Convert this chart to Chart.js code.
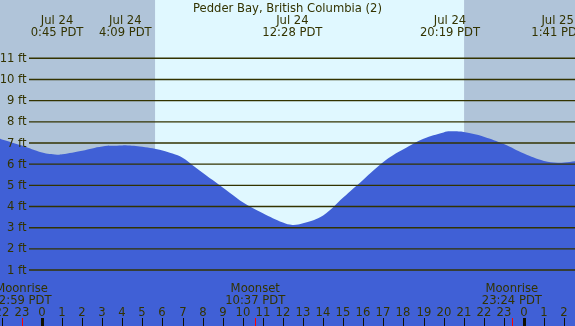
<!DOCTYPE html>
<html>
<head>
<meta charset="utf-8">
<script src="https://cdn.jsdelivr.net/npm/chart.js@4.4.1/dist/chart.umd.min.js"></script>
<style>
  html, body { margin: 0; padding: 0; background: #ffffff; }
  #wrap { width: 575px; height: 326px; }
</style>
</head>
<body>
<div id="wrap"><canvas id="tide-chart" width="575" height="326"></canvas></div>
<script>
// tide heights (ft), hour 0 = midnight Jul 24
const tideHours   = [-3, -2, -1, 0, 0.75, 1, 2, 3, 4, 4.15, 5, 6, 6.5, 7, 7.5, 8, 8.5, 9, 9.5, 10, 11, 12, 12.47, 13, 14, 15, 15.5, 16, 16.5, 17, 17.5, 18, 19, 20, 20.32, 21, 22, 23, 24, 25, 25.68, 26, 27];
const tideHeights = [7.45, 7.17, 6.88, 6.55, 6.45, 6.47, 6.64, 6.84, 6.88, 6.89, 6.82, 6.65, 6.5, 6.3, 5.95, 5.6, 5.25, 4.9, 4.54, 4.2, 3.68, 3.24, 3.13, 3.21, 3.58, 4.42, 4.85, 5.27, 5.7, 6.1, 6.43, 6.7, 7.2, 7.5, 7.55, 7.52, 7.3, 6.95, 6.5, 6.15, 6.07, 6.08, 6.2];

// highs and lows printed along the top
const extremeHours = [0.75, 4.15, 12.47, 20.32, 25.68];
const extremeDates = ['Jul 24', 'Jul 24', 'Jul 24', 'Jul 24', 'Jul 25'];
const extremeTimes = ['0:45 PDT', '4:09 PDT', '12:28 PDT', '20:19 PDT', '1:41 PDT'];

// moon events along the bottom
const moonHours = [-1.02, 10.62, 23.4];
const moonNames = ['Moonrise', 'Moonset', 'Moonrise'];
const moonTimes = ['22:59 PDT', '10:37 PDT', '23:24 PDT'];

const sunriseHour = 5.63;
const sunsetHour = 21.02;

const hourTicks  = [-2, -1, 0, 1, 2, 3, 4, 5, 6, 7, 8, 9, 10, 11, 12, 13, 14, 15, 16, 17, 18, 19, 20, 21, 22, 23, 24, 25, 26];
const hourLabels = ['22', '23', '0', '1', '2', '3', '4', '5', '6', '7', '8', '9', '10', '11', '12', '13', '14', '15', '16', '17', '18', '19', '20', '21', '22', '23', '0', '1', '2'];
const depthTicks = [1, 2, 3, 4, 5, 6, 7, 8, 9, 10, 11];

const title = 'Pedder Bay, British Columbia (2)';

const FONT = '11.6px "DejaVu Sans"';
const INK = '#333300';
const NIGHT = '#b0c4d9';
const DAY = '#e0f8ff';
const WATER = '#4060d6';

// sky: night everywhere, day between sunrise and sunset
const skyPlugin = {
    id: 'sky',
    beforeDatasetsDraw(chart) {
        const { ctx, chartArea: a, scales: { x } } = chart;
        ctx.save();
        ctx.fillStyle = NIGHT;
        ctx.fillRect(a.left, a.top, a.right - a.left, a.bottom - a.top);
        const x1 = x.getPixelForValue(sunriseHour);
        const x2 = x.getPixelForValue(sunsetHour);
        ctx.fillStyle = DAY;
        ctx.fillRect(x1, a.top, x2 - x1, a.bottom - a.top);
        ctx.restore();
    }
};

// grid lines, labels and ticks drawn on top of the water
const overlayPlugin = {
    id: 'overlay',
    afterDatasetsDraw(chart) {
        const { ctx, chartArea: a, scales: { x, y } } = chart;
        ctx.save();
        ctx.font = FONT;
        ctx.fillStyle = INK;

        // depth lines + "N ft" labels
        ctx.strokeStyle = INK;
        ctx.lineWidth = 1.4;
        depthTicks.forEach(d => {
            const py = y.getPixelForValue(d);
            ctx.beginPath();
            ctx.moveTo(29, py);
            ctx.lineTo(a.right, py);
            ctx.stroke();
            ctx.textAlign = 'right';
            ctx.textBaseline = 'middle';
            ctx.fillText(d + ' ft', 26.5, py + 0.5);
        });

        // title
        ctx.textAlign = 'center';
        ctx.textBaseline = 'alphabetic';
        ctx.fillText(title, (a.left + a.right) / 2, 12);

        // high / low labels
        extremeHours.forEach((h, i) => {
            const px = x.getPixelForValue(h);
            ctx.fillText(extremeDates[i], px, 24);
            ctx.fillText(extremeTimes[i], px, 36);
        });

        // moon labels
        moonHours.forEach((h, i) => {
            const px = x.getPixelForValue(h);
            ctx.fillText(moonNames[i], px, 291.5);
            ctx.fillText(moonTimes[i], px, 303.5);
        });

        // hour labels and ticks
        hourTicks.forEach((h, i) => {
            const px = Math.round(x.getPixelForValue(h));
            ctx.fillStyle = INK;
            ctx.fillText(hourLabels[i], px, 315.5);
            ctx.fillStyle = '#111100';
            const w = hourLabels[i] === '0' ? 3 : 1;
            ctx.fillRect(px - Math.floor(w / 2), 318, w, a.bottom - 318);
        });

        // moon event ticks
        ctx.fillStyle = '#ff0000';
        moonHours.forEach(h => {
            const px = Math.round(x.getPixelForValue(h));
            ctx.fillRect(px, 318, 1, a.bottom - 318);
        });

        ctx.restore();
    }
};

const canvas = document.getElementById('tide-chart');
new Chart(canvas.getContext('2d'), {
    type: 'line',
    data: {
        datasets: [{
            label: 'Tide',
            data: tideHours.map((h, i) => ({ x: h, y: tideHeights[i] })),
            borderWidth: 0,
            borderColor: WATER,
            backgroundColor: WATER,
            pointRadius: 0,
            fill: 'start',
            tension: 0.4
        }]
    },
    options: {
        responsive: false,
        animation: false,
        events: [],
        layout: { padding: 0, autoPadding: false },
        plugins: {
            legend: { display: false },
            tooltip: { enabled: false }
        },
        scales: {
            x: { type: 'linear', display: false, min: -2.092, max: 26.544 },
            y: { type: 'linear', display: false, min: -1.644, max: 13.755 }
        }
    },
    plugins: [skyPlugin, overlayPlugin]
});
</script>
</body>
</html>
